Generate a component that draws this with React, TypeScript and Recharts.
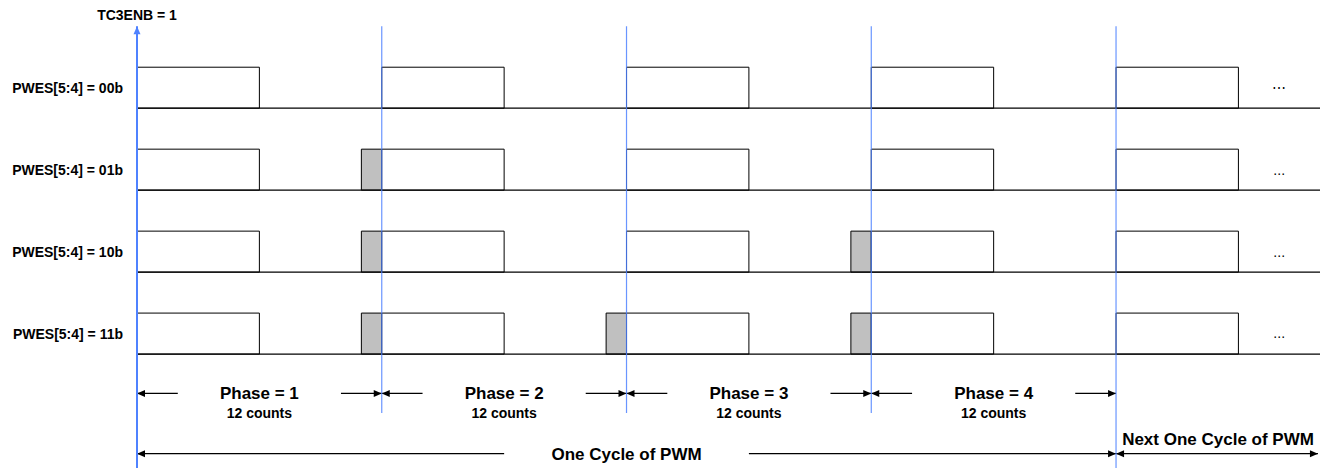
import React from "react";
import { ComposedChart, XAxis, YAxis, ReferenceArea, ReferenceLine } from "recharts";

// lanes of the timing diagram
const rowLabels = ["PWES[5:4] = 00b", "PWES[5:4] = 01b", "PWES[5:4] = 10b", "PWES[5:4] = 11b"];
// extra counts the pulse is stretched backwards (grey), per lane and per pulse
const extendCounts = [
  [0, 0, 0, 0, 0],
  [0, 1, 0, 0, 0],
  [0, 1, 0, 1, 0],
  [0, 1, 1, 1, 0],
];
const pulseStarts = [0, 12, 24, 36, 48];
const pulseCounts = 6;
const cycleBounds = [0, 48];
const phaseTitles = ["Phase = 1", "Phase = 2", "Phase = 3", "Phase = 4"];
const phaseCountLabels = ["12 counts", "12 counts", "12 counts", "12 counts"];
const ellipsisText = ["\u22EF", "...", "...", "..."];
const cycleTitle = "One Cycle of PWM";
const nextCycleTitle = "Next One Cycle of PWM";
const enableTitle = "TC3ENB = 1";

// axis ranges (counts horizontally, lane units vertically)
const X_MAX = 58;
const Y_MIN = -8.78;
const Y_MAX = 2.64;
const laneLow = (i: number) => -2 * i;
const MARK_TOP = 2;
const PHASE_Y = -6.96;
const PHASE_MARK_END = -7.44;
const CYCLE_Y = -8.43;
const NEXT_TEXT_Y = -8.08;
const ARROW_COUNTS = 2;
const CYCLE_GAP = [18, 30];

const FONT = "Arial, 'Liberation Sans', Helvetica, sans-serif";
const BLUE = "#4f82ff";

const arrowShape = (heads: "start" | "end" | "both") => (p: any) => {
  const { x1, y1, x2, y2 } = p;
  const len = Math.hypot(x2 - x1, y2 - y1) || 1;
  const ux = (x2 - x1) / len;
  const uy = (y2 - y1) / len;
  const head = (tx: number, ty: number, dx: number, dy: number) => {
    const L = 8;
    const W = 3.5;
    const bx = tx - dx * L;
    const by = ty - dy * L;
    return `${tx},${ty} ${bx - dy * W},${by + dx * W} ${bx + dy * W},${by - dx * W}`;
  };
  return (
    <g>
      <line x1={x1} y1={y1} x2={x2} y2={y2} stroke={p.stroke} strokeWidth={p.strokeWidth} />
      {heads !== "start" && <polygon points={head(x2, y2, ux, uy)} fill={p.stroke} />}
      {heads !== "end" && <polygon points={head(x1, y1, -ux, -uy)} fill={p.stroke} />}
    </g>
  );
};

const CenterText = ({ viewBox, lines }: any) => {
  if (!viewBox) return null;
  const cx = viewBox.x + viewBox.width / 2;
  const cy = viewBox.y + viewBox.height / 2;
  return (
    <g>
      {lines.map((l: any, i: number) => (
        <text
          key={i}
          x={cx}
          y={cy + (l.dy || 0)}
          dy="0.35em"
          textAnchor="middle"
          fontFamily={FONT}
          fontWeight={l.weight || "bold"}
          fontSize={l.size}
          fill="#000"
        >
          {l.text}
        </text>
      ))}
    </g>
  );
};

export default function App() {
  const data = pulseStarts.map((x) => ({ x }));
  return (
    <div style={{ position: "absolute", left: 0, top: 0, width: 1320, height: 468, background: "#fff", fontFamily: FONT }}>
      <ComposedChart width={1320} height={468} data={data} margin={{ top: 0, right: 0, bottom: 0, left: 0 }}>
        <XAxis hide type="number" dataKey="x" domain={[0, X_MAX]} allowDataOverflow />
        <YAxis
          type="number"
          width={137}
          domain={[Y_MIN, Y_MAX]}
          allowDataOverflow
          ticks={rowLabels.map((_, i) => laneLow(i) + 0.5)}
          tickFormatter={(v: number) => rowLabels[Math.round((0.5 - v) / 2)] ?? ""}
          interval={0}
          axisLine={false}
          tickLine={false}
          tickSize={0}
          tickMargin={14}
          tick={{ fontSize: 14, fontWeight: "bold", fill: "#000", fontFamily: FONT }}
        />

        {/* baselines */}
        {rowLabels.map((_, i) => (
          <ReferenceLine
            key={`base-${i}`}
            segment={[{ x: 0, y: laneLow(i) }, { x: X_MAX, y: laneLow(i) }]}
            stroke="#000"
            strokeWidth={1.2}
            ifOverflow="visible"
          />
        ))}

        {/* grey stretched part */}
        {rowLabels.map((_, i) =>
          pulseStarts.map((s, k) =>
            extendCounts[i][k] > 0 ? (
              <ReferenceArea
                key={`ext-${i}-${k}`}
                x1={s - extendCounts[i][k]}
                x2={s}
                y1={laneLow(i)}
                y2={laneLow(i) + 1}
                fill="#c0c0c0"
                fillOpacity={1}
                stroke="#000"
                strokeWidth={1}
                ifOverflow="visible"
              />
            ) : null
          )
        )}

        {/* pulses */}
        {rowLabels.map((_, i) =>
          pulseStarts.map((s, k) => (
            <ReferenceArea
              key={`p-${i}-${k}`}
              x1={s}
              x2={s + pulseCounts}
              y1={laneLow(i)}
              y2={laneLow(i) + 1}
              fill="#fff"
              fillOpacity={1}
              stroke="#000"
              strokeWidth={1}
              ifOverflow="visible"
            />
          ))
        )}

        {/* ellipsis */}
        {rowLabels.map((_, i) => (
          <ReferenceArea
            key={`el-${i}`}
            x1={55}
            x2={57}
            y1={laneLow(i) + 0.4}
            y2={laneLow(i) + 0.6}
            fill="none"
            stroke="none"
            ifOverflow="visible"
            label={<CenterText lines={[{ text: ellipsisText[i], size: 14, weight: "normal" }]} />}
          />
        ))}

        {/* phase texts */}
        {phaseTitles.map((t, k) => (
          <ReferenceArea
            key={`ph-${k}`}
            x1={pulseStarts[k]}
            x2={pulseStarts[k + 1]}
            y1={PHASE_Y - 0.1}
            y2={PHASE_Y + 0.1}
            fill="none"
            stroke="none"
            ifOverflow="visible"
            label={<CenterText lines={[{ text: t, size: 17 }, { text: phaseCountLabels[k], size: 14, dy: 20 }]} />}
          />
        ))}

        {/* phase arrows */}
        {phaseTitles.map((_, k) => (
          <ReferenceLine
            key={`pal-${k}`}
            segment={[{ x: pulseStarts[k] + ARROW_COUNTS, y: PHASE_Y }, { x: pulseStarts[k], y: PHASE_Y }]}
            stroke="#000"
            strokeWidth={1.2}
            ifOverflow="visible"
            shape={arrowShape("end")}
          />
        ))}
        {phaseTitles.map((_, k) => (
          <ReferenceLine
            key={`par-${k}`}
            segment={[{ x: pulseStarts[k + 1] - ARROW_COUNTS, y: PHASE_Y }, { x: pulseStarts[k + 1], y: PHASE_Y }]}
            stroke="#000"
            strokeWidth={1.2}
            ifOverflow="visible"
            shape={arrowShape("end")}
          />
        ))}

        {/* cycle arrows */}
        <ReferenceLine
          segment={[{ x: CYCLE_GAP[0], y: CYCLE_Y }, { x: cycleBounds[0], y: CYCLE_Y }]}
          stroke="#000"
          strokeWidth={1.2}
          ifOverflow="visible"
          shape={arrowShape("end")}
        />
        <ReferenceLine
          segment={[{ x: CYCLE_GAP[1], y: CYCLE_Y }, { x: cycleBounds[1], y: CYCLE_Y }]}
          stroke="#000"
          strokeWidth={1.2}
          ifOverflow="visible"
          shape={arrowShape("end")}
        />
        <ReferenceArea
          x1={cycleBounds[0]}
          x2={cycleBounds[1]}
          y1={CYCLE_Y - 0.1}
          y2={CYCLE_Y + 0.1}
          fill="none"
          stroke="none"
          ifOverflow="visible"
          label={<CenterText lines={[{ text: cycleTitle, size: 17 }]} />}
        />
        <ReferenceLine
          segment={[{ x: cycleBounds[1], y: CYCLE_Y }, { x: X_MAX - 0.1, y: CYCLE_Y }]}
          stroke="#000"
          strokeWidth={1.2}
          ifOverflow="visible"
          shape={arrowShape("both")}
        />
        <ReferenceArea
          x1={cycleBounds[1]}
          x2={X_MAX}
          y1={NEXT_TEXT_Y - 0.1}
          y2={NEXT_TEXT_Y + 0.1}
          fill="none"
          stroke="none"
          ifOverflow="visible"
          label={<CenterText lines={[{ text: nextCycleTitle, size: 17 }]} />}
        />

        {/* blue phase markers */}
        {pulseStarts.map((s, k) => {
          const full = cycleBounds.includes(s);
          return (
            <ReferenceLine
              key={`m-${k}`}
              segment={[{ x: s, y: full ? Y_MIN : PHASE_MARK_END }, { x: s, y: MARK_TOP }]}
              stroke={BLUE}
              strokeWidth={k === 0 ? 2 : 1.2}
              strokeOpacity={k === 0 ? 1 : 0.85}
              ifOverflow="visible"
              shape={k === 0 ? arrowShape("end") : undefined}
              label={
                k === 0
                  ? { value: enableTitle, position: "top", offset: 6, fontSize: 14, fontWeight: "bold", fill: "#000", fontFamily: FONT }
                  : undefined
              }
            />
          );
        })}
      </ComposedChart>
    </div>
  );
}
